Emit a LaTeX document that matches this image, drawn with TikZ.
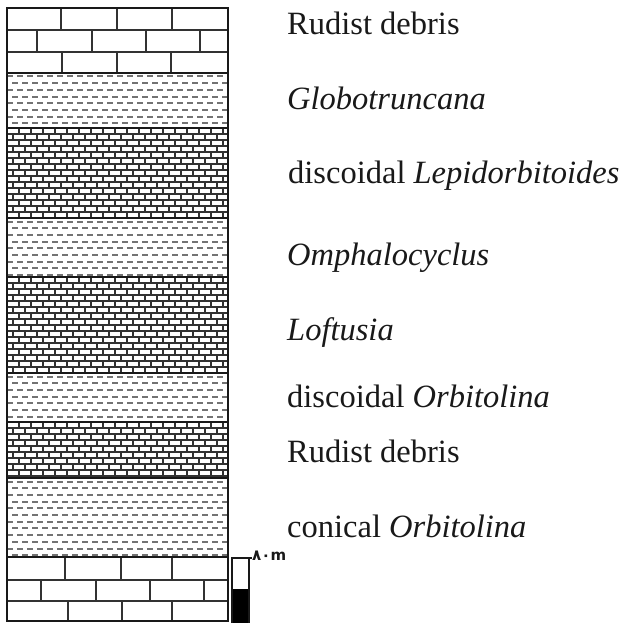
\documentclass[tikz,border=0pt]{standalone}
\usepackage{fontspec}
\setmainfont{Liberation Serif}
\newfontfamily\barfont{DejaVu Sans}
\definecolor{c1}{RGB}{25,25,25}
\definecolor{c2}{RGB}{50,50,50}
\definecolor{c3}{RGB}{115,115,115}

\tikzset{
  lbl/.style={anchor=base west,inner sep=0pt,text=c1,font=\fontsize{32.5}{36}\selectfont},
  shaledash/.style={draw=c3,line width=2pt},
  brickline/.style={draw=c2,line width=1.8pt},
  limeline/.style={draw=c2,line width=1.6pt}
}

\begin{document}
\begin{tikzpicture}[x=1pt,y=-1pt]
    \useasboundingbox (0,0) rectangle (624,623);
    % shale layers
    \foreach \t/\b in {73/128,218/277,373/422,478/557}{
      \begin{scope}
        \clip (7,\t) rectangle (228,\b);
        \foreach \k in {0,...,12}{
          \pgfmathsetmacro\yy{\t+3.5+6.7*\k}
          \pgfmathsetmacro\ph{5*mod(\k,2)}
          \draw[shaledash,dash pattern=on 6pt off 4pt,dash phase=\ph pt] (7,\yy) -- (228,\yy);
        }
      \end{scope}
    }
    % limestone with small bricks
    \foreach \t/\b in {128/218,277/373,422/478}{
      \begin{scope}
        \clip (7,\t) rectangle (228,\b);
        \foreach \k in {0,...,16}{
          \pgfmathsetmacro\yy{\t+6*\k}
          \draw[brickline] (7,\yy) -- (228,\yy);
          \foreach \j in {0,...,19}
            \draw[brickline] ({7+12*\j+6*mod(\k,2)},\yy) -- ++(0,6);
        }
      \end{scope}
    }
    % massive limestone, top
    \foreach \y in {30,52} \draw[limeline] (7,\y) -- (228,\y);
    \foreach \x in {61,117,172} \draw[limeline] (\x,8) -- (\x,30);
    \foreach \x in {37,92,146,200} \draw[limeline] (\x,30) -- (\x,52);
    \foreach \x in {62,117,171} \draw[limeline] (\x,52) -- (\x,73);
    % massive limestone, bottom
    \foreach \y in {580,601} \draw[limeline] (7,\y) -- (228,\y);
    \foreach \x in {65,121,172} \draw[limeline] (\x,557) -- (\x,580);
    \foreach \x in {41,96,150,204} \draw[limeline] (\x,580) -- (\x,601);
    \foreach \x in {68,122,172} \draw[limeline] (\x,601) -- (\x,621);
    % layer boundaries and frame
    \foreach \y in {73,128,218,277,373,422,478,557}
      \draw[draw=c1,line width=1.6pt] (7,\y) -- (228,\y);
    \draw[draw=c1,line width=1.8pt] (7,8) rectangle (228,621);

    % scale bar
    \fill[black] (232,589) rectangle (249,623);
    \draw[draw=c1,line width=1.3pt] (232,623) -- (232,558) -- (252,558);
    \draw[draw=c1,line width=1.3pt] (249,558) -- (249,623);
    \node[anchor=west,inner sep=0pt,text=c1,font=\barfont\bfseries\fontsize{15}{16}\selectfont] (sc) at (252,556) {۸۰m};

    % fossils
    \node[lbl] (l1) at (287,35) {Rudist debris};
    \node[lbl] (l2) at (287,110) {\textit{Globotruncana}};
    \node[lbl] (l3) at (288,183) {discoidal \textit{Lepidorbitoides}};
    \node[lbl] (l4) at (287,265) {\textit{Omphalocyclus}};
    \node[lbl] (l5) at (287,340) {\textit{Loftusia}};
    \node[lbl] (l6) at (287,407) {discoidal \textit{Orbitolina}};
    \node[lbl] (l7) at (287,462) {Rudist debris};
    \node[lbl] (l8) at (287,537) {conical \textit{Orbitolina}};
\end{tikzpicture}
\end{document}
